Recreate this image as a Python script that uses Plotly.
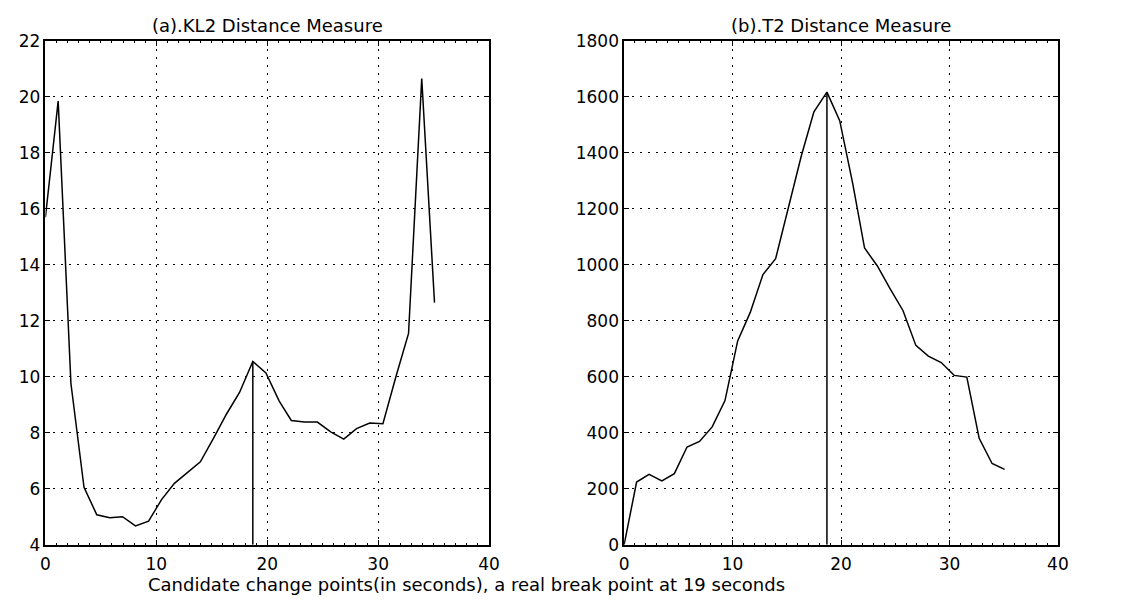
import plotly.graph_objects as go

W, H = 1133, 604

# Candidate change points (seconds)
cand_x = [0, 1.15, 2.3, 3.48, 4.63, 5.8, 6.95, 8.12, 9.3, 10.47, 11.63, 12.8, 13.97,
          15.15, 16.33, 17.5, 18.7, 19.88, 21.08, 22.17, 23.35, 24.52, 25.72, 26.9,
          28.05, 29.24, 30.43, 31.6, 32.74, 33.93, 35.08]
# (a) KL2 distance
kl2 = [15.7, 19.85, 9.76, 6.05, 5.07, 4.96, 5.0, 4.67, 4.84, 5.61, 6.19, 6.59, 6.96,
       7.8, 8.67, 9.44, 10.55, 10.14, 9.13, 8.44, 8.38, 8.38, 8.03, 7.77,
       8.15, 8.35, 8.32, 10.0, 11.55, 20.66, 12.65]
# (b) T2 distance
t2 = [0, 224, 251, 228, 254, 349, 369, 421, 515, 728, 830, 965, 1022,
      1200, 1388, 1547, 1617, 1515, 1290, 1060, 996, 915, 836, 712,
      674, 651, 605, 599, 380, 290, 269]
break_x = 18.7
kl2_peak = 10.55
t2_peak = 1617

x_ticks = [0, 10, 20, 30, 40]
kl2_ticks = [4, 6, 8, 10, 12, 14, 16, 18, 20, 22]
t2_ticks = [0, 200, 400, 600, 800, 1000, 1200, 1400, 1600, 1800]

titles = ["(a).KL2 Distance Measure", "(b).T2 Distance Measure"]
xlabel = "Candidate change points(in seconds), a real break point at 19 seconds"

FONT = "DejaVu Sans"
line_style = dict(color="black", width=1.5)

fig = go.Figure()
fig.add_trace(go.Scatter(x=cand_x, y=kl2, mode="lines", line=line_style,
                         xaxis="x", yaxis="y", showlegend=False))
fig.add_trace(go.Scatter(x=[break_x, break_x], y=[kl2_ticks[0], kl2_peak], mode="lines",
                         line=line_style, xaxis="x", yaxis="y", showlegend=False))
fig.add_trace(go.Scatter(x=cand_x, y=t2, mode="lines", line=line_style,
                         xaxis="x2", yaxis="y2", showlegend=False))
fig.add_trace(go.Scatter(x=[break_x, break_x], y=[t2_ticks[0], t2_peak], mode="lines",
                         line=line_style, xaxis="x2", yaxis="y2", showlegend=False))

def px_x(p):
    return p / W

def px_y(p):
    return 1 - p / H

ydom = [px_y(553), px_y(32)]
left_dom = [px_x(41), px_x(491)]
right_dom = [px_x(628), px_x(1068)]

common = dict(
    showline=True, linecolor="black", linewidth=1.5, mirror="allticks",
    ticks="inside", ticklen=5, tickwidth=1.2, tickcolor="black",
    showgrid=True, gridcolor="black", gridwidth=1.3, griddash="2px,6px",
    zeroline=False, tickfont=dict(family=FONT, size=17, color="black"),
)
xcommon = dict(common, range=[0, 40], tickvals=x_ticks, ticklabelstandoff=3,
               minor=dict(dtick=1, ticks="inside", ticklen=2, tickcolor="black",
                          showgrid=False))

fig.update_layout(
    width=W, height=H,
    margin=dict(l=0, r=0, t=0, b=0),
    paper_bgcolor="white", plot_bgcolor="white",
    font=dict(family=FONT, color="black"),
    xaxis=dict(xcommon, domain=left_dom, anchor="y"),
    yaxis=dict(common, domain=ydom, anchor="x", range=[4, 22], tickvals=kl2_ticks),
    xaxis2=dict(xcommon, domain=right_dom, anchor="y2"),
    yaxis2=dict(common, domain=ydom, anchor="x2", range=[0, 1800], tickvals=t2_ticks),
)

fig.add_annotation(text=titles[0], xref="paper", yref="paper",
                   x=sum(left_dom) / 2, y=px_y(16), showarrow=False,
                   xanchor="center", yanchor="middle",
                   font=dict(family=FONT, size=18, color="black"))
fig.add_annotation(text=titles[1], xref="paper", yref="paper",
                   x=sum(right_dom) / 2, y=px_y(16), showarrow=False,
                   xanchor="center", yanchor="middle",
                   font=dict(family=FONT, size=18, color="black"))
fig.add_annotation(text=xlabel, xref="paper", yref="paper",
                   x=px_x(468), y=px_y(594), showarrow=False,
                   xanchor="center", yanchor="middle",
                   font=dict(family=FONT, size=18, color="black"))

fig.write_html("out.html")
